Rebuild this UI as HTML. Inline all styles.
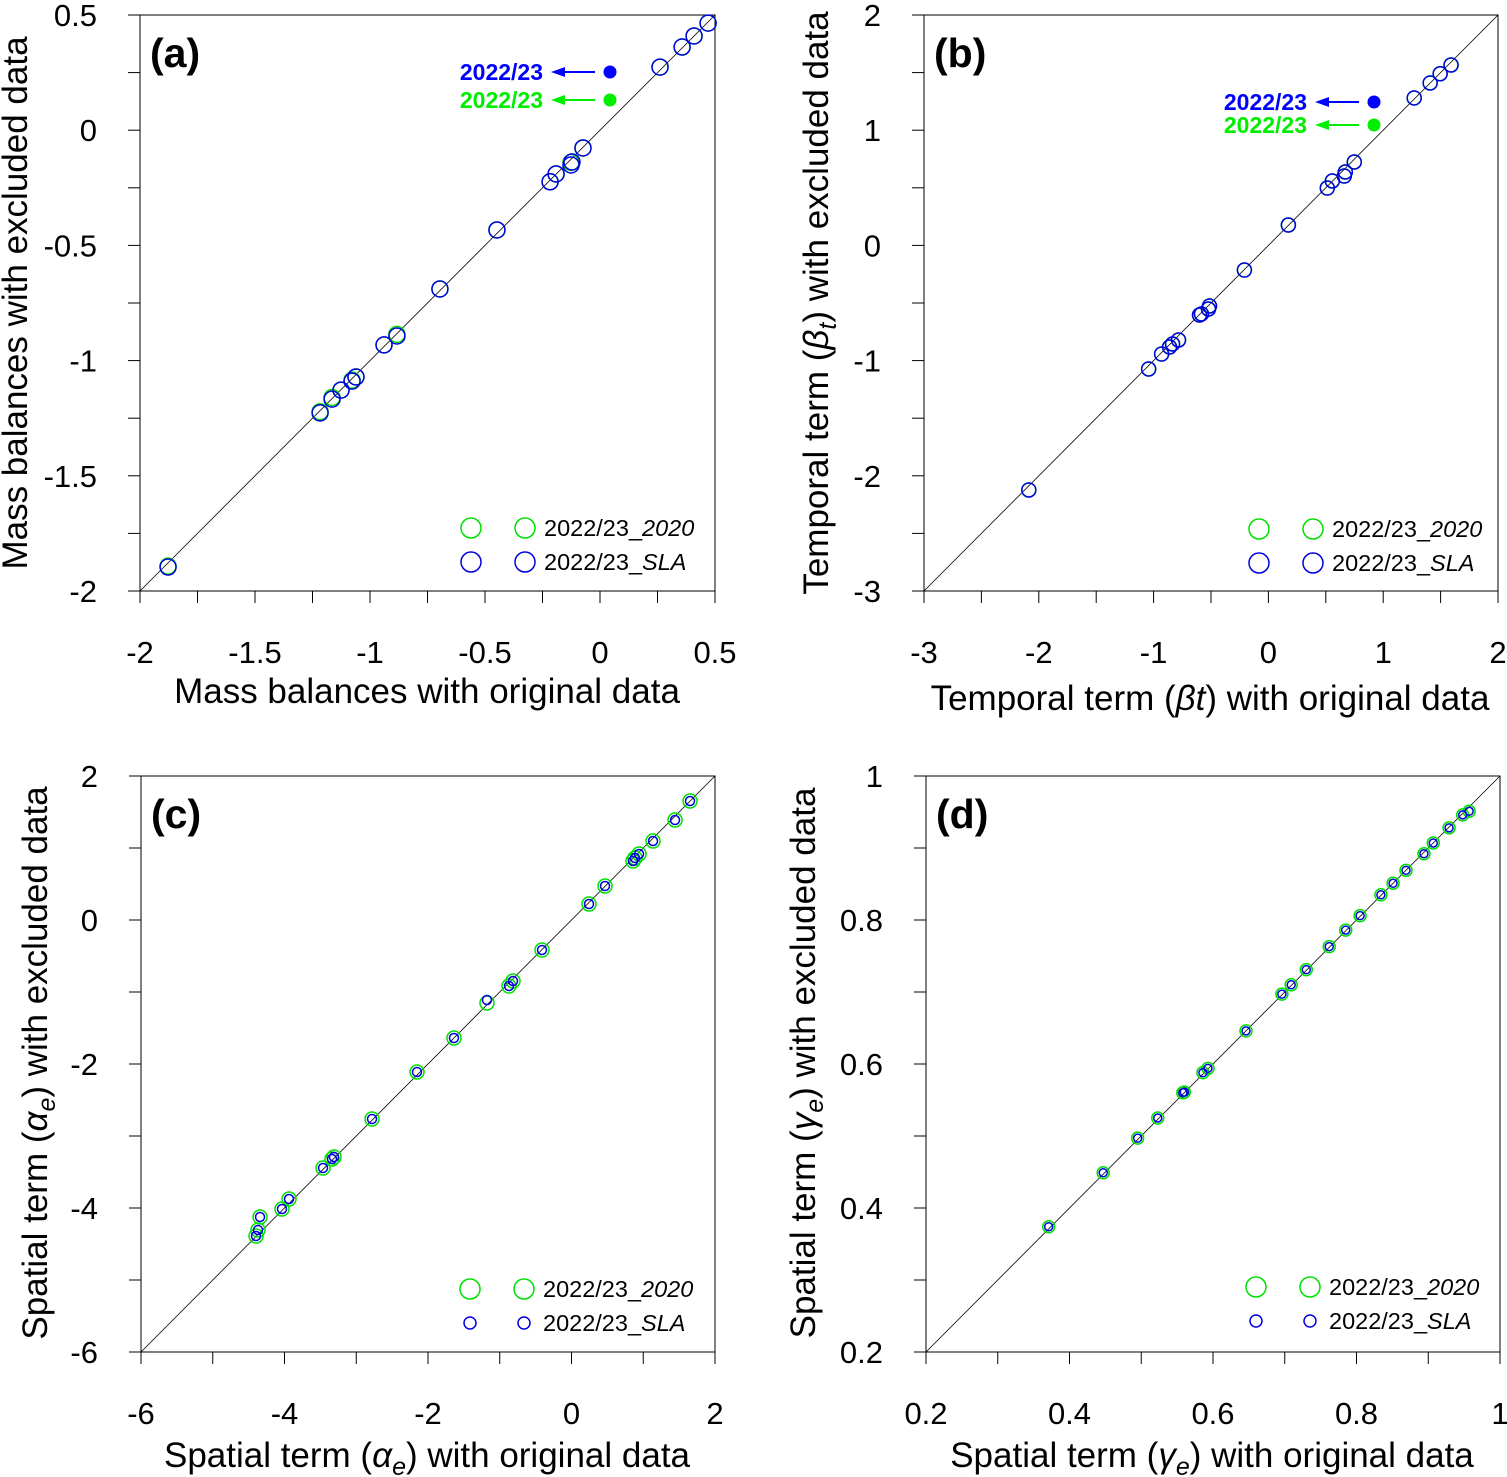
<!DOCTYPE html>
<html><head><meta charset="utf-8"><style>
html,body{margin:0;padding:0;background:#fff;}
svg{display:block;font-family:"Liberation Sans",Arial,sans-serif;}
</style></head><body>
<svg id="c" width="1507" height="1477" viewBox="0 0 1507 1477" xmlns="http://www.w3.org/2000/svg"></svg>
<script>
// Panel (a)
const aX=[-1.878,-1.217,-1.165,-1.126,-1.078,-1.061,-0.939,-0.883,-0.696,-0.448,-0.217,-0.191,-0.126,-0.122,-0.074,0.261,0.357,0.409,0.470];
const aY=[-1.896,-1.227,-1.167,-1.128,-1.089,-1.071,-0.932,-0.893,-0.689,-0.433,-0.224,-0.190,-0.151,-0.138,-0.077,0.274,0.361,0.409,0.465];
const aYg=[-1.892,-1.222,-1.160,-1.128,-1.085,-1.071,-0.932,-0.886,-0.689,-0.433,-0.224,-0.190,-0.140,-0.138,-0.077,0.274,0.361,0.409,0.465];
// Panel (b)
const bX=[-2.087,-1.043,-0.930,-0.861,-0.835,-0.783,-0.600,-0.583,-0.522,-0.513,-0.209,0.174,0.513,0.557,0.661,0.670,0.748,1.270,1.409,1.496,1.591];
const bY=[-2.123,-1.073,-0.943,-0.882,-0.856,-0.821,-0.604,-0.595,-0.552,-0.526,-0.214,0.177,0.498,0.559,0.602,0.637,0.724,1.280,1.410,1.490,1.566];
// Panel (c)
const cX=[-4.397,-4.369,-4.341,-4.035,-3.937,-3.463,-3.338,-3.310,-2.780,-2.153,-1.638,-1.178,-0.871,-0.815,-0.411,0.244,0.467,0.857,0.885,0.941,1.136,1.443,1.652];
const cYg=[-4.389,-4.306,-4.125,-4.014,-3.875,-3.444,-3.319,-3.292,-2.764,-2.111,-1.639,-1.153,-0.917,-0.847,-0.417,0.222,0.472,0.819,0.861,0.917,1.097,1.389,1.653];
const cYb=[-4.389,-4.306,-4.125,-4.014,-3.875,-3.444,-3.319,-3.292,-2.764,-2.111,-1.639,-1.111,-0.917,-0.847,-0.417,0.222,0.472,0.819,0.861,0.917,1.097,1.389,1.653];
// Panel (d)
const dX=[0.371,0.447,0.495,0.523,0.558,0.560,0.586,0.593,0.646,0.696,0.709,0.730,0.762,0.785,0.805,0.834,0.851,0.869,0.894,0.907,0.929,0.948,0.957];
const dY=[0.374,0.449,0.497,0.525,0.560,0.561,0.588,0.594,0.646,0.697,0.710,0.731,0.763,0.786,0.806,0.835,0.851,0.869,0.892,0.907,0.928,0.946,0.951];
const aTicks=["-2","-1.5","-1","-0.5","0","0.5"];
const bTicks=["-3","-2","-1","0","1","2"];
const cTicks=["-6","-4","-2","0","2"];
const dTicks=["0.2","0.4","0.6","0.8","1"];

const svg=document.getElementById('c');
const NS="http://www.w3.org/2000/svg";
function el(t,a,p){const e=document.createElementNS(NS,t);for(const k in a)e.setAttribute(k,a[k]);(p||svg).appendChild(e);return e;}

function panel(o){
  const g=el('g',{});
  
  
  const sx=v=>o.x0+(v-o.min)/(o.max-o.min)*(o.x1-o.x0);
  const sy=v=>o.y1-(v-o.min)/(o.max-o.min)*(o.y1-o.y0);
  const fr=el('rect',{x:o.x0,y:o.y0,width:o.x1-o.x0,height:o.y1-o.y0,fill:'none',stroke:'#000','stroke-width':1},g);
  
  
  const dl=el('line',{x1:sx(o.min),y1:sy(o.min),x2:sx(o.max),y2:sy(o.max),stroke:'#000','stroke-width':0.8},g);
  
  
  for(let v=o.min;v<=o.max+1e-9;v+=o.minor){
    el('line',{x1:sx(v),y1:o.y1,x2:sx(v),y2:o.y1+12,stroke:'#000'},g);
    el('line',{x1:o.x0-12,y1:sy(v),x2:o.x0,y2:sy(v),stroke:'#000'},g);
  }
  o.ticks.forEach(t=>{
    const v=parseFloat(t);
    const xt=el('text',{x:sx(v),y:o.y1+72,'font-size':31,'text-anchor':'middle'},g);xt.textContent=t;
    
    
    const yt=el('text',{x:o.x0-43,y:sy(v)+11,'font-size':31,'text-anchor':'end'},g);yt.textContent=t;
    
    
  });
  o.xs.forEach((x,i)=>{
    const c1=el('circle',{cx:sx(x),cy:sy(o.yg[i]),r:o.rg,fill:'none',stroke:'#00e000','stroke-width':1.5},g);
    
    
  });
  o.xs.forEach((x,i)=>{
    const c2=el('circle',{cx:sx(x),cy:sy(o.yb[i]),r:o.rb,fill:'none',stroke:'#0000e0','stroke-width':1.5},g);
    
    
  });
  const lt=el('text',{x:o.x0+10,y:o.y0+52,'font-size':41,'font-weight':'bold'},g);lt.textContent='('+o.id+')';
  
  
  const L=o.leg;
  [[L.y1,'#00e000',o.rgL,'2020'],[L.y2,'#0000e0',o.rbL,'SLA']].forEach(r=>{
    const lg=el('g',{},g);
    
    
    el('circle',{cx:L.x,cy:r[0],r:r[2],fill:'none',stroke:r[1],'stroke-width':1.5},lg);
    el('circle',{cx:L.x+54,cy:r[0],r:r[2],fill:'none',stroke:r[1],'stroke-width':1.5},lg);
    const t=el('text',{x:L.x+73,y:r[0]+8,'font-size':23.5},lg);
    t.innerHTML='2022/23_<tspan font-style="italic">'+r[3]+'</tspan>';
  });
  if(o.ann){
    const A=o.ann;
    [[A.y1,'#0000ff'],[A.y2,'#00ee00']].forEach(r=>{
      const ag=el('g',{},g);
      
      
      const t=el('text',{x:A.tx,y:r[0]+8,'font-size':23,'font-weight':'bold',fill:r[1],'text-anchor':'end'},ag);t.textContent='2022/23';
      el('line',{x1:A.tx+52,y1:r[0],x2:A.tx+18,y2:r[0],stroke:r[1],'stroke-width':2},ag);
      el('polygon',{points:(A.tx+8)+','+r[0]+' '+(A.tx+22)+','+(r[0]-5)+' '+(A.tx+22)+','+(r[0]+5),fill:r[1]},ag);
      el('circle',{cx:A.tx+67,cy:r[0],r:6.5,fill:r[1]},ag);
    });
  }
  const xtl=el('text',{x:o.xt[0],y:o.xt[1],'font-size':35,'text-anchor':'middle'},g);xtl.innerHTML=o.xtitle;
  
  
  const ytl=el('text',{x:0,y:0,'font-size':35,'text-anchor':'middle',transform:'translate('+o.yt[0]+','+o.yt[1]+') rotate(-90)'},g);ytl.innerHTML=o.ytitle;
  
  
}

panel({id:'a',x0:140,x1:715,y0:15,y1:591,min:-2,max:0.5,minor:0.25,ticks:aTicks,xs:aX,yg:aYg,yb:aY,rg:8,rb:8,rgL:10,rbL:10,
 leg:{x:471,y1:528,y2:562},ann:{tx:543,y1:72,y2:100},
 xt:[427,703],xtitle:'Mass balances with original data',yt:[27,303],ytitle:'Mass balances with excluded data'});
panel({id:'b',x0:924,x1:1498,y0:15,y1:591,min:-3,max:2,minor:0.5,ticks:bTicks,xs:bX,yg:bY,yb:bY,rg:7,rb:7,rgL:10,rbL:10,
 leg:{x:1259,y1:529,y2:563},ann:{tx:1307,y1:102,y2:125},
 xt:[1210,710],xtitle:'Temporal term (<tspan font-style="italic">βt</tspan>) with original data',yt:[828,303],ytitle:'Temporal term (<tspan font-style="italic">β</tspan><tspan font-style="italic" font-size="25" dy="8">t</tspan><tspan dy="-8">) with excluded data</tspan>'});
panel({id:'c',x0:141,x1:715,y0:776,y1:1352,min:-6,max:2,minor:1,ticks:cTicks,xs:cX,yg:cYg,yb:cYb,rg:7,rb:4.5,rgL:10,rbL:6,
 leg:{x:470,y1:1289,y2:1323},
 xt:[427,1467],xtitle:'Spatial term (<tspan font-style="italic">α</tspan><tspan font-style="italic" font-size="25" dy="8">e</tspan><tspan dy="-8">) with original data</tspan>',yt:[47,1063],ytitle:'Spatial term (<tspan font-style="italic">α</tspan><tspan font-style="italic" font-size="25" dy="8">e</tspan><tspan dy="-8">) with excluded data</tspan>'});
panel({id:'d',x0:926,x1:1500,y0:776,y1:1352,min:0.2,max:1,minor:0.1,ticks:dTicks,xs:dX,yg:dY,yb:dY,rg:6,rb:4,rgL:10,rbL:6,
 leg:{x:1256,y1:1287,y2:1321},
 xt:[1212,1467],xtitle:'Spatial term (<tspan font-style="italic">γ</tspan><tspan font-style="italic" font-size="25" dy="8">e</tspan><tspan dy="-8">) with original data</tspan>',yt:[815,1063],ytitle:'Spatial term (<tspan font-style="italic">γ</tspan><tspan font-style="italic" font-size="25" dy="8">e</tspan><tspan dy="-8">) with excluded data</tspan>'});
</script>
</body></html>
